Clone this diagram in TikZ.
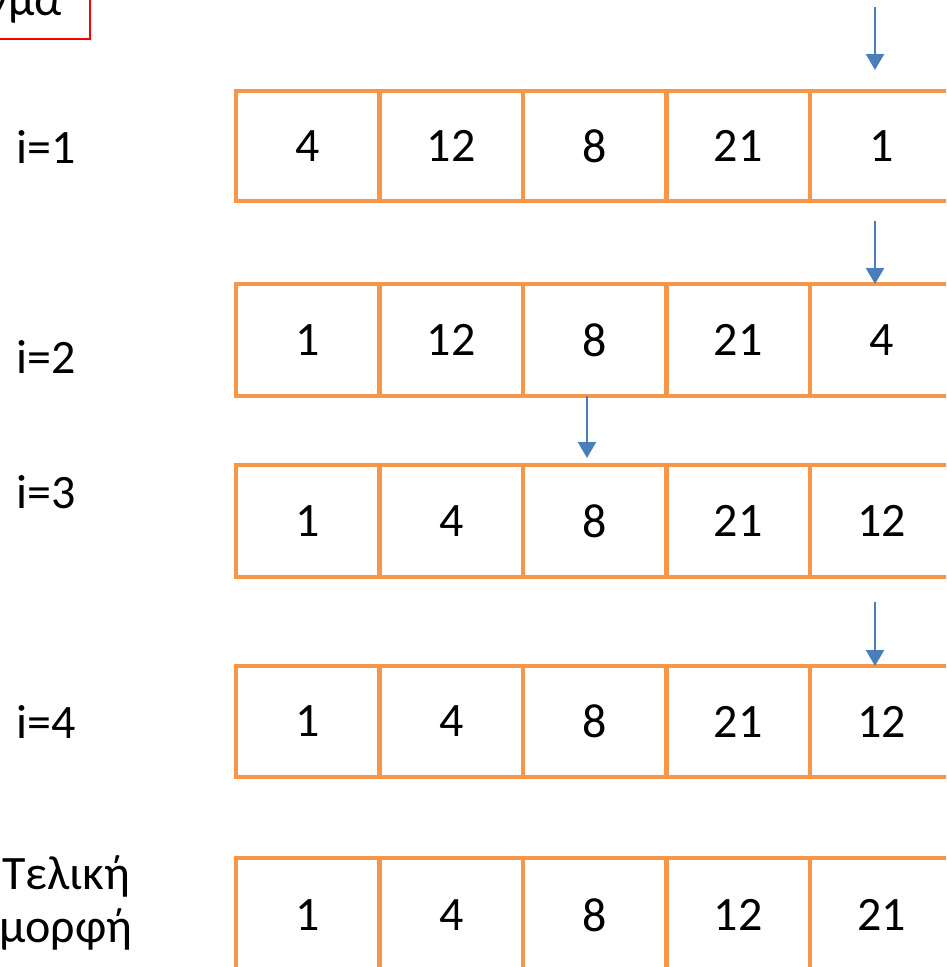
\documentclass[tikz,border=0pt]{standalone}
\usepackage{fontspec}
\setmainfont{Carlito}
\usetikzlibrary{arrows.meta,calc}
\definecolor{cellorange}{HTML}{F79646}
\definecolor{arrowblue}{HTML}{4A7EBB}
\begin{document}
\begin{tikzpicture}[x=0.75pt,y=-0.75pt,
  every node/.style={font=\fontsize{36}{39}\selectfont, inner sep=0pt},
  cell/.style={draw=cellorange, line width=3.4pt, minimum width=107.6pt, minimum height=#1, inner sep=0pt},
  pointer/.style={draw=arrowblue, line width=1.7pt, -{Triangle[length=12pt,width=13.5pt]}},
  titlebox/.style={draw=red, line width=1.4pt},
  rowlabel/.style={anchor=west}]
\useasboundingbox (0,0) rectangle (946,967);
\clip (0,0) rectangle (946,967);

% cells
\foreach \r/\y/\h/\vals in {1/146/82.5pt/{4,12,8,21,1},
                            2/340/84pt/{1,12,8,21,4},
                            3/521/84pt/{1,4,8,21,12},
                            4/721.5/83.3pt/{1,4,8,21,12},
                            5/915/85.5pt/{1,4,8,12,21}}{
  \foreach \v [count=\c] in \vals {
    \node[cell=\h] (c\r\c) at ({236+143.5*(\c-0.5)},\y) {\v};
  }
}

% title box (cut by the page edge)
\node[anchor=base east] (title) at (62,16) {γμα};
\draw[titlebox] (-10,-10) rectangle (90,39);

% row labels
\node[rowlabel] (l1) at (16,147) {i=1};
\node[rowlabel] (l2) at (16,357) {i=2};
\node[rowlabel] (l3) at (16,492) {i=3};
\node[rowlabel] (l4) at (16,722) {i=4};
\node[align=center, font=\fontsize{36}{39.5}\selectfont] (l5) at (66,903) {Τελική\\μορφή};

% arrows
\coordinate (a1s) at (875,7);   \coordinate (a1e) at (875,70);
\coordinate (a2s) at (875,221); \coordinate (a2e) at (875,284);
\coordinate (a3s) at (587,396); \coordinate (a3e) at (587,458);
\coordinate (a4s) at (875,602); \coordinate (a4e) at (875,666);
\draw[pointer] (a1s) -- (a1e);
\draw[pointer] (a2s) -- (a2e);
\draw[pointer] (a3s) -- (a3e);
\draw[pointer] (a4s) -- (a4e);
\end{tikzpicture}
\end{document}
